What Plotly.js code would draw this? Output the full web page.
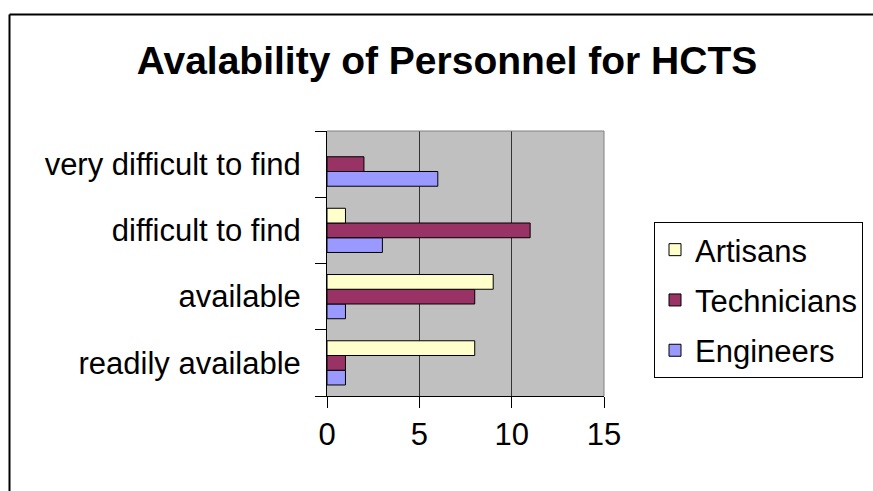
<!DOCTYPE html>
<html>
<head>
<meta charset="utf-8">
<script src="https://cdn.plot.ly/plotly-3.0.1.min.js"></script>
<style>
  html, body { margin: 0; padding: 0; background: #fff; }
  #chart { width: 873px; height: 491px; }
</style>
</head>
<body>
<div id="chart"></div>
<script>
const categories = ['readily available', 'available', 'difficult to find', 'very difficult to find'];
const artisans = [8, 9, 1, 0];
const technicians = [1, 8, 11, 2];
const engineers = [1, 1, 3, 6];
const seriesNames = ['Artisans', 'Technicians', 'Engineers'];
const xTicks = [0, 5, 10, 15];

const FONT = 'Liberation Sans, Arial, sans-serif';

// plot area in pixels
const L = 327, R = 604, T = 131, B = 396;
const W = R - L, H = B - T;
const px = x => (x - L) / W;
const py = y => (B - y) / H;

const traces = [
  { name: seriesNames[2], y: categories, x: engineers, color: '#9999FF', g: 'c', rank: 3 },
  { name: seriesNames[1], y: categories, x: technicians, color: '#993366', g: 'b', rank: 2 },
  { name: seriesNames[0], y: categories, x: artisans, color: '#FFFFCC', g: 'a', rank: 1 }
].map(s => ({
  type: 'bar',
  orientation: 'h',
  name: s.name,
  x: s.x,
  y: s.y,
  legendgroup: s.g,
  legendrank: s.rank,
  marker: { color: s.color, line: { color: '#000', width: s.x.map(v => v === 0 ? 0 : 1) } },
  hoverinfo: 'x+name'
}));

const layout = {
  width: 873,
  height: 491,
  margin: { l: L, r: 873 - R, t: T, b: 491 - B, pad: 0, autoexpand: false },
  paper_bgcolor: '#fff',
  plot_bgcolor: '#C0C0C0',
  barmode: 'group',
  bargap: 0.333,
  bargroupgap: 0,
  font: { family: FONT, size: 31, color: '#000' },
  title: {
    text: '<b>Avalability of Personnel for HCTS</b>',
    font: { family: FONT, size: 39, color: '#000' },
    x: 447 / 873, xref: 'container', xanchor: 'center',
    y: 1 - 60 / 491, yref: 'container', yanchor: 'middle'
  },
  xaxis: {
    range: [0, 15],
    tickvals: xTicks,
    ticktext: xTicks.map(String),
    showgrid: true,
    gridcolor: '#333',
    gridwidth: 1,
    zeroline: false,
    showline: true,
    linecolor: '#000',
    linewidth: 1,
    ticks: 'outside',
    ticklen: 11,
    tickcolor: '#000',
    tickfont: { family: FONT, size: 31, color: '#000' },
    ticklabelstandoff: 0,
    automargin: false,
    fixedrange: true
  },
  yaxis: {
    type: 'category',
    categoryorder: 'array',
    categoryarray: categories,
    tickson: 'boundaries',
    ticks: 'outside',
    ticklen: 11,
    tickcolor: '#000',
    showgrid: false,
    zeroline: false,
    showline: true,
    linecolor: '#000',
    linewidth: 1,
    tickfont: { family: FONT, size: 31, color: '#000' },
    ticklabelstandoff: 19,
    automargin: false,
    fixedrange: true
  },
  legend: {
    x: px(654), xanchor: 'left',
    y: py(222), yanchor: 'top',
    traceorder: 'grouped',
    tracegroupgap: 7,
    bgcolor: '#fff',
    bordercolor: '#000',
    borderwidth: 1,
    font: { family: FONT, size: 31, color: '#000' }
  },
  shapes: [
    { type: 'line', xref: 'paper', yref: 'paper', x0: px(9.5), x1: px(880), y0: py(14.5), y1: py(14.5), line: { color: '#000', width: 2 } },
    { type: 'line', xref: 'paper', yref: 'paper', x0: px(9.5), x1: px(9.5), y0: py(14.5), y1: py(500), line: { color: '#000', width: 2 } },
    { type: 'line', xref: 'paper', yref: 'paper', x0: 0, x1: 1, y0: 1, y1: 1, line: { color: '#808080', width: 1 }, layer: 'above' },
    { type: 'line', xref: 'paper', yref: 'paper', x0: 1, x1: 1, y0: 0, y1: 1, line: { color: '#808080', width: 1 }, layer: 'above' }
  ],
  showlegend: true
};

Plotly.newPlot('chart', traces, layout, { displayModeBar: false, staticPlot: true });
</script>
</body>
</html>
